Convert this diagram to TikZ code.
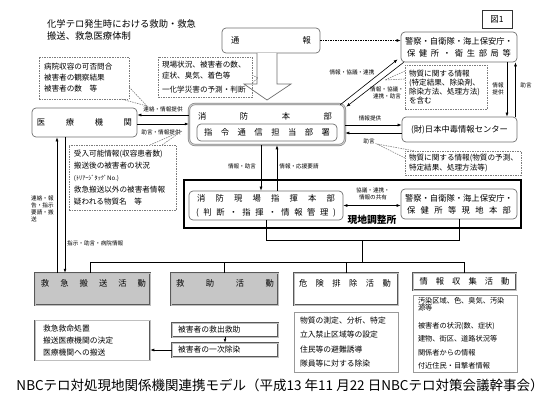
\documentclass[tikz,border=0pt]{standalone}
\usepackage{fontspec}
\setmainfont{Noto Sans CJK JP}
\usepackage{tikz}
\usetikzlibrary{arrows.meta,calc}
\definecolor{edge}{HTML}{6E6E6E}
\definecolor{fillg}{HTML}{C6C6C6}
\definecolor{dashgray}{HTML}{7C7C7C}
\newcommand{\sprd}[2]{\makebox[#1][s]{#2}}
\tikzset{
  rbox/.style={draw=edge, line width=0.7pt, rounded corners=4pt, inner sep=0pt, font=\fontsize{8.3}{12}\selectfont},
  dbox/.style={draw=black!55, double=black!22, double distance=1.2pt, line width=0.5pt, rounded corners=6pt},
  cbox/.style={draw=dashgray, dash pattern=on 1.5pt off 1pt, line width=0.6pt, inner ysep=0pt, align=left, font=\fontsize{7.6}{11}\selectfont},
  cline/.style={draw=dashgray, dash pattern=on 1.5pt off 1pt, line width=0.6pt},
  gbox/.style={draw=black!65, double=black!25, double distance=0.9pt, line width=0.5pt, fill=fillg},
  wbox/.style={draw=black!65, double=black!25, double distance=0.9pt, line width=0.5pt, fill=white, inner ysep=0pt, font=\fontsize{7.8}{12}\selectfont},
  lbox/.style={draw=black!40, line width=0.6pt, inner ysep=0pt, align=left, font=\fontsize{7.8}{14.3}\selectfont},
  txt/.style={inner sep=0pt, font=\fontsize{8.3}{12}\selectfont},
  lab/.style={inner sep=0pt, font=\fontsize{5.6}{6.8}\selectfont},
  arr/.style={-{Latex[length=4pt,width=3pt]}, line width=0.6pt},
  arr2/.style={{Latex[length=4pt,width=3pt]}-{Latex[length=4pt,width=3pt]}, line width=0.6pt},
  darr/.style={-{Latex[length=4pt,width=3pt]}, dash pattern=on 1.5pt off 1pt, line width=0.6pt},
  tline/.style={line width=0.6pt},
}
\begin{document}
\begin{tikzpicture}[x=1pt, y=-1pt]
  \useasboundingbox (0,0) rectangle (550,405);

  % title and figure number
  \node[inner sep=0pt, anchor=north west, align=left, font=\fontsize{9.3}{12}\selectfont] (title) at (47,19) {化学テロ発生時における救助・救急\\搬送、救急医療体制};
  \node[draw=black!80, line width=0.6pt, minimum width=30pt, minimum height=18pt, inner sep=0pt, font=\fontsize{8.5}{10}\selectfont] (fig) at (497,19) {図1};

  % top row
  \node[rbox, minimum width=98pt, minimum height=25pt] (tsuho) at (271,40.5) {\sprd{80pt}{通 報}};
  \node[rbox, minimum width=116pt, minimum height=30pt, align=center] (keisatsu) at (459,47) {警察・自衛隊・海上保安庁・\\\sprd{104pt}{保 健 所 ・ 衛 生 部 局 等}};
  \draw[darr] (tsuho.east) -- (tsuho.east -| keisatsu.west);

  % hollow arrow
  \draw[edge, line width=0.7pt, fill=white] (257,53) -- (257,84) -- (244,84) -- (267,100) -- (291,84) -- (277,84) -- (277,53);

  % callouts, top left
  \node[cbox, text width=86pt, minimum height=40pt, inner xsep=4pt] (genba) at (205,77) {現場状況、被害者の数、\\症状、臭気、着色等\\[3pt]一化学災害の予測・判断};
  \draw[cline] (252,75) -- (258,78) -- (252,83);
  \node[cbox, text width=80pt, minimum height=42pt, inner xsep=5pt] (byoin) at (84,78) {病院収容の可否問合\\被害者の観察結果\\被害者の数　等};
  \draw[cline] (129,87) -- (147,106) -- (121,99);

  % fire department HQ
  \node[dbox, minimum width=156pt, minimum height=41pt] (honbu) at (267,124.5) {};
  \node[txt] (honbuT) at (265,116) {\sprd{134pt}{消 防 本 部}};
  \node[rbox, minimum width=140pt, minimum height=17pt] (shirei) at (267,132.5) {\sprd{126pt}{指 令 通 信 担 当 部 署}};

  % medical institutions
  \node[rbox, minimum width=105pt, minimum height=29pt] (iryo) at (84.5,122.5) {\sprd{95pt}{医 療 機 関}};
  \coordinate (a1) at ($(honbu.west)+(0,-9.5)$);
  \draw[arr] (a1) -- (a1 -| iryo.east);
  \node[lab] (a1L) at (163,109) {連絡・情報提供};
  \coordinate (a2) at ($(iryo.east)+(0,1.5)$);
  \draw[arr] (a2) -- (a2 -| honbu.west);
  \node[lab] (a2L) at (161,132) {助言・情報提供};

  \node[cbox, text width=97pt, minimum height=65pt, inner xsep=5pt, font=\fontsize{7.6}{12}\selectfont] (ukeire) at (122.5,177.5) {受入可能情報(収容患者数)\\搬送後の被害者の状況\\{\fontsize{6.2}{8}\selectfont (ﾄﾘｱｰｼﾞﾀｯｸﾞNo.)}\\救急搬送以外の被害者情報\\疑われる物質名　等};
  \draw[cline] (150,145) -- (182,131) -- (162,145);

  % police etc. and poison center
  \draw[arr] ($(honbu.north east)+(-5,1)$) -- ($(keisatsu.south west)+(-3,-3)$);
  \draw[arr] ($(keisatsu.south west)+(3,0)$) -- ($(honbu.north east)+(1,3)$);
  \node[lab] (d1L) at (352,72) {情報・協議・連携};
  \node[lab, align=center] (d2L) at (387,93) {情報・協議・\\連携・助言};

  \node[cbox, text width=74pt, minimum height=44pt, inner xsep=4pt, font=\fontsize{7.6}{9}\selectfont] (bus1) at (446,87) {物質に関する情報\\(特定結果、除染剤、\\除染方法、処理方法)\\を含む};
  \draw[cline] (405,71) -- (385,80) -- (405,79);

  \node[rbox, minimum width=115pt, minimum height=25pt] (chudoku) at (459.5,129.5) {(財)日本中毒情報センター};
  \coordinate (v1) at ($(keisatsu.south)+(48,0)$);
  \draw[arr] (v1) -- (v1 |- chudoku.north);
  \coordinate (v2) at ($(chudoku.north)+(56,0)$);
  \draw[arr] (v2) -- (v2 |- keisatsu.south);
  \node[lab, align=center] (v1L) at (498,89) {情報\\提供};
  \node[lab] (v2L) at (526,85) {助言};

  \coordinate (h1) at ($(honbu.east)+(0,0.5)$);
  \draw[arr] (h1) -- (h1 -| chudoku.west);
  \node[lab] (h1L) at (370,118) {情報提供};
  \coordinate (h2) at ($(chudoku.west)+(0,3.5)$);
  \draw[arr] (h2) -- (h2 -| honbu.east);
  \node[lab] (h2L) at (369,141) {助言};

  \node[cbox, text width=108pt, minimum height=24pt, inner xsep=4pt, font=\fontsize{7.6}{9.5}\selectfont] (bus2) at (463,163) {物質に関する情報(物質の予測、\\特定結果、処理方法等)};
  \draw[cline] (405,158) -- (377,144) -- (415,151);

  % on-site coordination
  \node[draw, line width=2.4pt, minimum width=337pt, minimum height=48pt] (genchi) at (352.5,204) {};
  \node[rbox, minimum width=154pt, minimum height=29pt, align=center, font=\fontsize{8.3}{14}\selectfont] (genbaHQ) at (266,205.5) {\sprd{138pt}{消 防 現 場 指 揮 本 部}\\\sprd{140pt}{( 判 断 ・ 指 揮 ・ 情 報 管 理 )}};
  \node[rbox, minimum width=116pt, minimum height=30pt, align=center] (kgen) at (459,204) {警察・自衛隊・海上保安庁・\\\sprd{104pt}{保 健 所 等 現 地 本 部}};
  \draw[arr2] (genbaHQ.east) -- (genbaHQ.east -| kgen.west);
  \node[lab, align=center] (g1L) at (373,194) {協議・連携・\\情報の共有};
  \node[inner sep=0pt, font=\fontsize{9.8}{11}\selectfont\bfseries] (genchiL) at (372,220) {現地調整所};

  \coordinate (u1) at ($(honbu.south)+(-6,0)$);
  \draw[arr] (u1) -- (u1 |- genbaHQ.north);
  \node[lab] (u1L) at (242,166) {情報・助言};
  \coordinate (u2) at ($(genbaHQ.north)+(11,0)$);
  \draw[arr] (u2) -- (u2 |- honbu.south);
  \node[lab] (u2L) at (299,166) {情報・応援要請};

  % activities
  \node[gbox, minimum width=115pt, minimum height=32pt] (kyukyu) at (92.5,289) {};
  \node[txt] (kyukyuT) at (93.5,283) {\sprd{105pt}{救 急 搬 送 活 動}};
  \node[gbox, minimum width=107pt, minimum height=32pt] (kyujo) at (224.5,289) {};
  \node[txt] (kyujoT) at (225,283) {\sprd{98pt}{救 助 活 動}};
  \node[wbox, minimum width=104pt, minimum height=32pt] (kiken) at (346,289) {};
  \node[txt] (kikenT) at (345,283) {\sprd{92pt}{危 険 排 除 活 動}};
  \node[wbox, minimum width=103pt, minimum height=17pt, font=\fontsize{8.3}{12}\selectfont] (joho) at (464.5,281.5) {\sprd{90pt}{情 報 収 集 活 動}};

  % tree from the command posts
  \draw[tline] (genbaHQ.south) -- ++(0,20) coordinate (t1) -| (kgen.south);
  \coordinate (t2) at ($(t1)!0.5!(t1 -| kgen.south)$);
  \coordinate (bus) at ($(t2)+(0,22)$);
  \draw[tline] (t2) -- (bus);
  \draw[tline] ($(kyukyu.north)+(-2.5,0)$) |- (bus) -| (joho.north);
  \draw[tline] (kyujo.north) -- (kyujo.north |- bus);
  \draw[tline] (kiken.north) -- (kiken.north |- bus);

  % links to medical institutions
  \coordinate (l1) at ($(kyukyu.north)+(-35.5,0)$);
  \draw[arr] (l1) -- (l1 |- iryo.south);
  \coordinate (l2) at ($(iryo.south)+(-19.5,0)$);
  \draw[arr] (l2) -- (l2 |- kyukyu.north);
  \node[lab, align=left, anchor=north west] (l1L) at (31,196) {連絡・報\\告・指示\\要請・搬\\送};
  \node[lab, anchor=west] (l2L) at (67,243) {指示・助言・病院情報};

  % tasks
  \node[wbox, minimum width=115pt, minimum height=40pt, text width=99pt, inner xsep=8pt, align=left] (kyukyuSub) at (92.5,340.5) {救急救命処置\\搬送医療機関の決定\\医療機関への搬送};
  \node[wbox, minimum width=106pt, minimum height=14pt, text width=94pt, inner xsep=6pt, align=left] (kyushutsu) at (225,330) {被害者の救出救助};
  \node[wbox, minimum width=106pt, minimum height=14pt, text width=94pt, inner xsep=6pt, align=left] (josen) at (225,350) {被害者の一次除染};
  \draw[arr] (kyushutsu.south) -- (josen.north);
  \draw[arr] (josen.west) -- (josen.west -| kyukyuSub.east);
  \node[lbox, minimum width=104pt, minimum height=60pt, text width=92pt, inner xsep=6pt] (kikenSub) at (346,342) {物質の測定、分析、特定\\立入禁止区域等の設定\\住民等の避難誘導\\隊員等に対する除染};
  \node[lbox, minimum width=104pt, minimum height=77pt, text width=94pt, inner xsep=5pt, font=\fontsize{7.2}{13.5}\selectfont] (johoSub) at (465,333.5) {汚染区域、色、臭気、汚染\\[-6pt]源等\\[4pt]被害者の状況(数、症状)\\建物、街区、道路状況等\\関係者からの情報\\付近住民・目撃者情報};

  % caption
  \node[inner sep=0pt, font=\fontsize{13.5}{15}\selectfont] (cap) at (280,385) {NBCテロ対処現地関係機関連携モデル（平成13 年11 月22 日NBCテロ対策会議幹事会）};
\end{tikzpicture}
\end{document}
